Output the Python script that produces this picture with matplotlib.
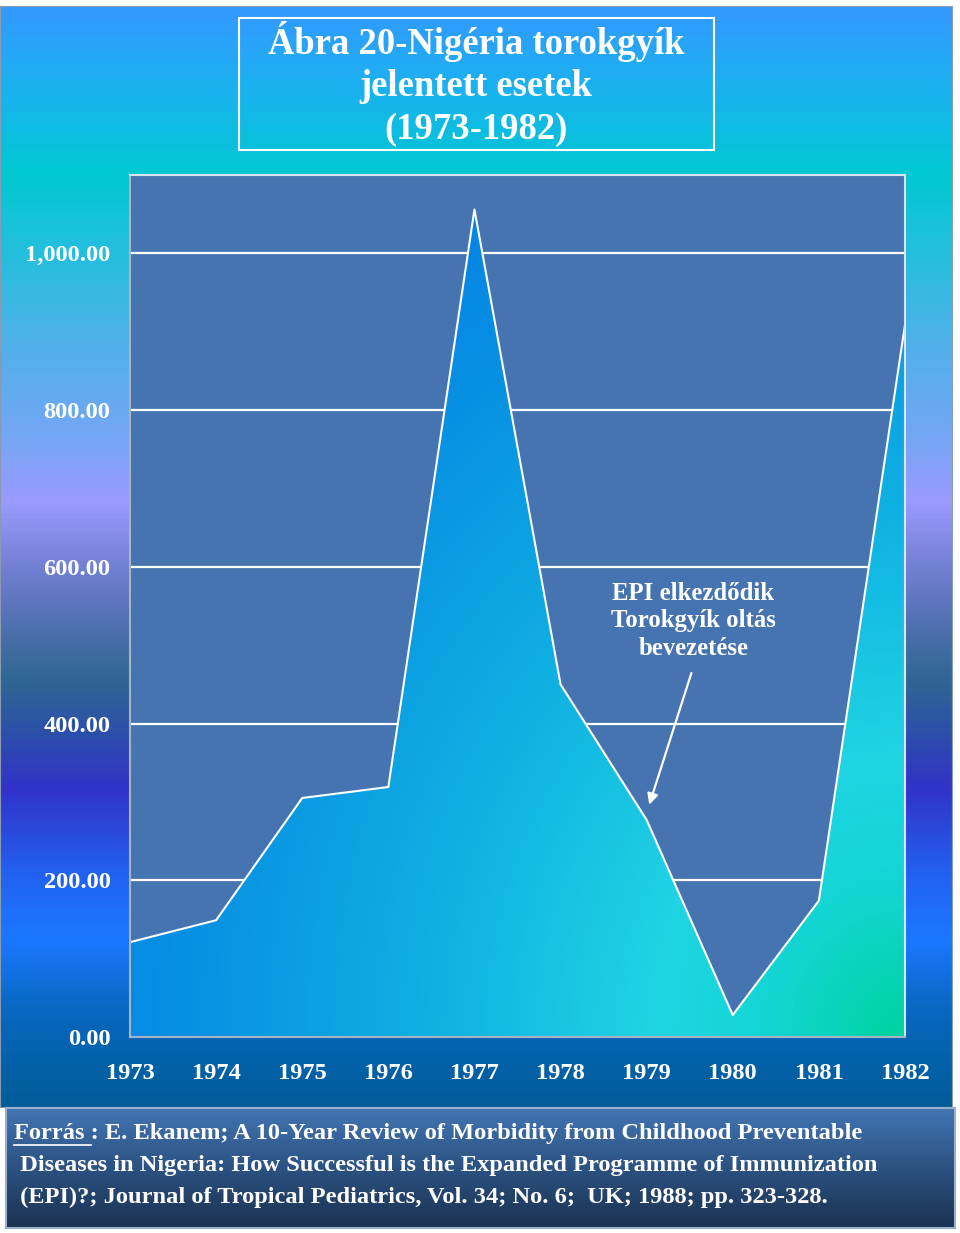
import numpy as np
import matplotlib
matplotlib.use("Agg")
import matplotlib.pyplot as plt
from matplotlib.colors import LinearSegmentedColormap
from matplotlib.patches import Rectangle
from matplotlib.ticker import FuncFormatter

years = [1973, 1974, 1975, 1976, 1977, 1978, 1979, 1980, 1981, 1982]
cases = [121, 149, 305, 319, 1056, 450, 277, 28, 174, 909]
y_ticks = [0, 200, 400, 600, 800, 1000]

title_text = "Ábra 20-Nigéria torokgyík\njelentett esetek\n(1973-1982)"
note_text = "EPI elkezdődik\nTorokgyík oltás\nbevezetése"
source_lines = [
    "Forrás : E. Ekanem; A 10-Year Review of Morbidity from Childhood Preventable",
    " Diseases in Nigeria: How Successful is the Expanded Programme of Immunization",
    " (EPI)?; Journal of Tropical Pediatrics, Vol. 34; No. 6;  UK; 1988; pp. 323-328.",
]

FONT = "Liberation Serif"
W, H = 960, 1233


def fx(px):
    return px / W


def fy(py):
    return 1 - py / H


fig = plt.figure(figsize=(W / 100, H / 100), dpi=100, facecolor="white")

# slide background gradient (top to bottom)
bg_cmap = LinearSegmentedColormap.from_list("bg", [
    (0.00, "#3399ff"), (0.08, "#18b4ee"), (0.15, "#00c8d2"),
    (0.23, "#28bede"), (0.31, "#52b0ea"), (0.39, "#74a6f4"),
    (0.45, "#9a9aff"), (0.51, "#7280d2"), (0.56, "#5270b2"),
    (0.61, "#306892"), (0.66, "#2c50aa"), (0.71, "#3232c8"),
    (0.79, "#2262f0"), (0.85, "#1a78ff"), (0.91, "#0868c2"),
    (1.00, "#005c98"),
])
bg = fig.add_axes([0, fy(1107), fx(952), (1107 - 6) / H])
bg.imshow(np.linspace(0, 1, 256).reshape(-1, 1), cmap=bg_cmap, aspect="auto",
          extent=[0, 1, 0, 1])
bg.set_xticks([])
bg.set_yticks([])
for s in bg.spines.values():
    s.set_color("#8a9ab0")

# main chart
ax = fig.add_axes([fx(130), fy(1037), fx(905) - fx(130), (1037 - 175) / H])
ax.set_facecolor("#4674b0")
ax.set_xlim(1973, 1982)
ax.set_ylim(0, 1100)

poly = ax.fill_between(years, cases, 0, color="none", lw=0)
gx, gy = np.meshgrid(np.linspace(1973, 1982, 300), np.linspace(0, 1100, 300))
r = np.sqrt(((1982 - gx) / 9) ** 2 + (gy / 1100) ** 2)
fill_cmap = LinearSegmentedColormap.from_list("fill", [
    (0.0, "#00d2a0"), (0.15, "#14d6d8"), (0.25, "#20d4e2"),
    (0.46, "#10b2e2"), (0.7, "#0892e2"), (1.0, "#0078e8")])
im = ax.imshow(r / 1.3, extent=[1973, 1982, 0, 1100], origin="lower",
               aspect="auto", cmap=fill_cmap, vmin=0, vmax=1, zorder=2)
im.set_clip_path(poly.get_paths()[0], transform=ax.transData)
ax.plot(years, cases, color="white", lw=1.5, zorder=3)
ax.set_xlim(1973, 1982)
ax.set_ylim(0, 1100)

ax.set_yticks(y_ticks)
ax.set_xticks(years)
ax.yaxis.set_major_formatter(FuncFormatter(lambda v, p: f"{v:,.2f}"))
ax.yaxis.grid(True, color="white", lw=1.6)
ax.set_axisbelow(True)
ax.tick_params(axis="both", length=0, labelcolor="white", labelsize=17.6)
ax.tick_params(axis="y", pad=14)
ax.tick_params(axis="x", pad=19)
for lab in ax.get_xticklabels() + ax.get_yticklabels():
    lab.set_fontfamily(FONT)
    lab.set_fontweight("bold")
for name, s in ax.spines.items():
    s.set_linewidth(1.5)
    s.set_color("#d8e4f0" if name in ("top", "right") else "#a8b4c4")
    s.set_zorder(4)

# annotation and arrow
ax.text(1979.54, 531, note_text, ha="center", va="center", color="white",
        fontsize=17.8, fontfamily=FONT, fontweight="bold", linespacing=1.25,
        zorder=5)
ax.annotate("", xy=(1979.02, 293), xytext=(1979.53, 468),
            arrowprops=dict(arrowstyle="-|>", color="white", lw=1.6,
                            mutation_scale=16), zorder=5)

# title box
fig.patches.append(Rectangle((fx(239), fy(150)), fx(714) - fx(239), (150 - 18) / H,
                             transform=fig.transFigure, fill=False,
                             edgecolor="white", lw=1.5))
fig.text(fx(476), fy(84), title_text, ha="center", va="center", color="white",
         fontsize=26.4, fontfamily=FONT, fontweight="bold", linespacing=1.28)

# source box
src = fig.add_axes([fx(6), fy(1228), fx(955) - fx(6), (1228 - 1108) / H])
src_cmap = LinearSegmentedColormap.from_list("src", ["#1a3250", "#2c5282", "#4376b4"])
src.imshow(np.linspace(0, 1, 256).reshape(-1, 1), cmap=src_cmap, aspect="auto",
           extent=[0, 1, 0, 1], origin="lower")
src.set_xticks([])
src.set_yticks([])
for s in src.spines.values():
    s.set_color("#9ab0cc")
    s.set_linewidth(1.5)

SRC_SIZE = 17.6
line_y = [1133, 1165, 1197]
for txt, py in zip(source_lines, line_y):
    fig.text(fx(14), fy(py), txt, ha="left", va="center", color="white",
             fontsize=SRC_SIZE, fontfamily=FONT, fontweight="bold")

# underline "Forrás "
renderer = fig.canvas.get_renderer()
probe = fig.text(fx(14), fy(1133), "Forrás ", ha="left", va="center",
                 fontsize=SRC_SIZE, fontfamily=FONT, fontweight="bold", alpha=0)
bb = probe.get_window_extent(renderer)
probe.remove()
uy = fy(1145)
fig.add_artist(plt.Line2D([fx(14), bb.x1 / fig.dpi / fig.get_figwidth()], [uy, uy],
                          transform=fig.transFigure, color="white", lw=1.2))

fig.savefig("out.png", dpi=100, facecolor="white")
